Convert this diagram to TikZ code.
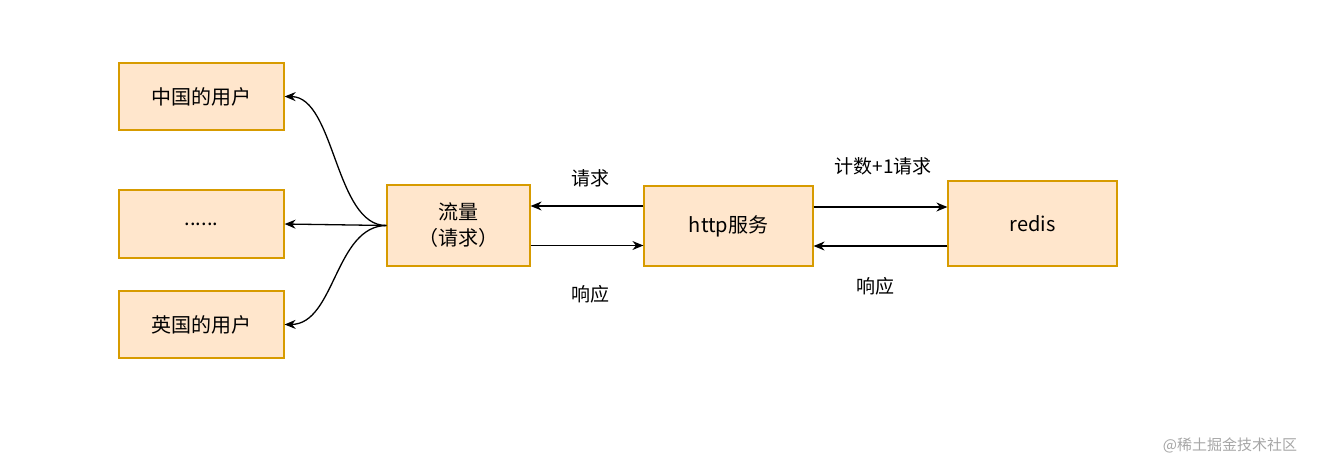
\documentclass[tikz,border=0pt]{standalone}
\usepackage{fontspec}
\setmainfont{Liberation Sans}
\newfontfamily\cjk{Noto Sans CJK SC}
\usetikzlibrary{arrows.meta}
\definecolor{boxfill}{HTML}{FFE6CC}
\definecolor{boxdraw}{HTML}{D79B00}
\tikzset{
 bx/.style={draw=boxdraw,fill=boxfill,line width=1.2pt,minimum width=#1,inner sep=0pt,align=center,font=\cjk\fontsize{20}{26}\selectfont},
 ar/.style={-{Stealth[length=11pt,width=9pt]},line width=1.3pt},
 lb/.style={font=\cjk\fontsize{19}{24}\selectfont}
}
\begin{document}
\begin{tikzpicture}[x=1pt,y=-1pt]
\useasboundingbox (0,0) rectangle (1324,472);
\node[bx=165pt,minimum height=67pt] (cn) at (201.5,96.5) {中国的用户};
\node[bx=165pt,minimum height=68pt] (dots) at (201.5,224) {......};
\node[bx=165pt,minimum height=67pt] (uk) at (201.5,324.5) {英国的用户};
\node[bx=143pt,minimum height=81pt] (flow) at (458.5,225.5) {流量\\（请求）};
\node[bx=169pt,minimum height=80pt] (http) at (728.5,226) {http服务};
\node[bx=169pt,minimum height=85pt] (redis) at (1032.5,223.5) {redis};
\coordinate (fl) at (flow.west);
\draw[ar] (fl) .. controls (335,226) and (335,97) .. (cn.east);
\draw[ar] (fl) -- (dots.east);
\draw[ar] (fl) .. controls (335,226) and (335,324) .. (uk.east);
\draw[ar] ([yshift=-20pt]flow.east) -- ([yshift=-20pt]flow.east -| http.west);
\draw[ar] ([yshift=20pt]http.west) -- ([yshift=20pt]http.west -| flow.east);
\draw[ar] (http.east |- 0,207) -- (redis.west |- 0,207);
\draw[ar] (redis.west |- 0,246) -- (http.east |- 0,246);
\node[lb] (l1) at (590,178) {请求};
\node[lb] (l2) at (590,294) {响应};
\node[lb] (l3) at (883,166) {计数+1请求};
\node[lb] (l4) at (875,286) {响应};
\node[font=\cjk\fontsize{15}{18}\selectfont,text=gray!70] (wm) at (1230,445) {@稀土掘金技术社区};
\end{tikzpicture}
\end{document}
